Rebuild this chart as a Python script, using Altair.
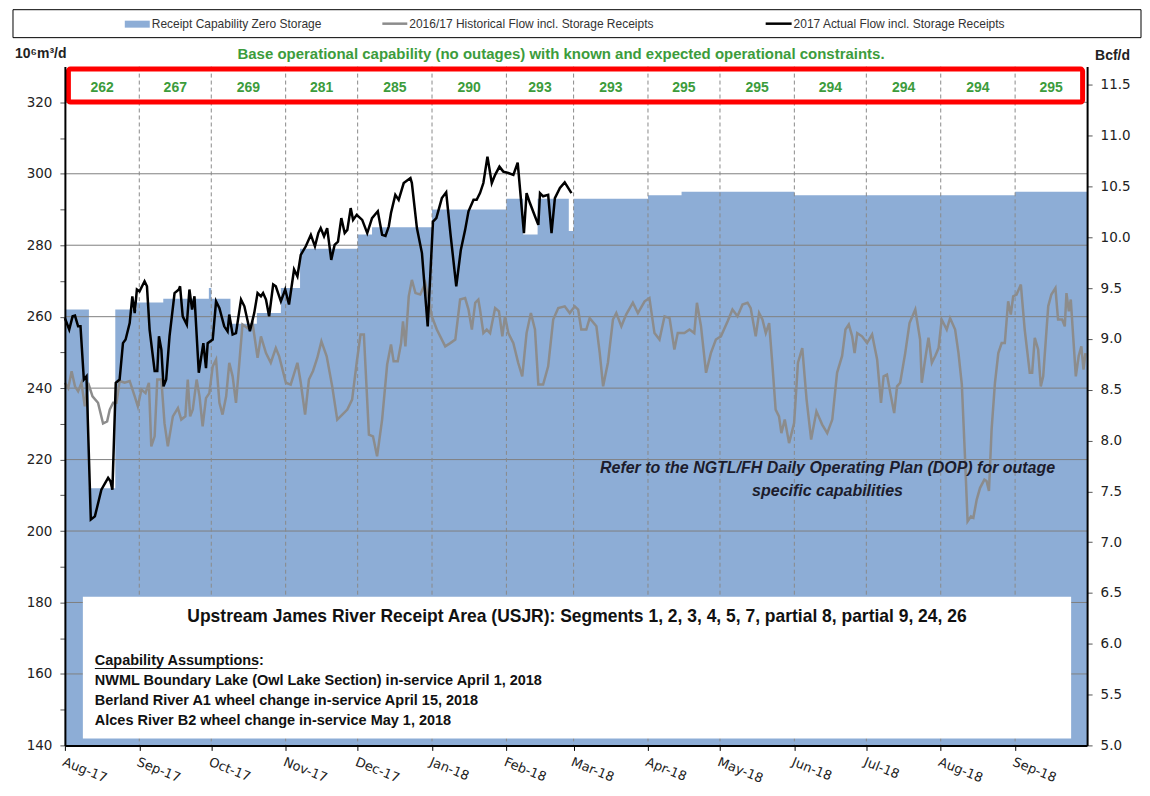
import altair as alt
import pandas as pd

# ---------------- data ----------------
# days since 2017-08-01
cap_days = [0, 10, 21, 30, 41, 60, 61, 69, 80, 90, 98, 122, 128, 153, 184, 191, 197, 210, 212, 243, 257, 304, 396, 426]
cap_vals = [262, 212, 262, 264, 265, 268, 265, 258, 261, 268, 279, 283, 285, 290, 293, 283, 293, 284, 293, 294, 295, 294, 295, 295]

act_days = [0.0, 1.8, 3.2, 4.2, 5.5, 6.5, 7.9, 9.0, 10.8, 12.5,
            13.4, 15.2, 18.0, 19.0, 19.8, 21.2, 22.8, 24.2, 25.3, 27.0,
            28.1, 29.1, 30.0, 31.1, 33.2, 34.2, 35.3, 37.4, 38.5, 39.2,
            40.2, 41.1, 42.2, 43.6, 45.7, 47.5, 48.0, 49.1, 50.8, 51.9,
            53.0, 54.0, 55.8, 57.7, 58.8, 59.5, 61.6, 63.0, 64.4, 66.4,
            67.8, 68.5, 69.9, 71.3, 73.4, 74.8, 77.1, 78.9, 80.3, 81.7,
            82.6, 83.8, 85.1, 86.8, 87.9, 90.0, 91.8, 93.4, 95.5, 96.9,
            98.3, 100.4, 102.5, 104.2, 105.6, 106.6, 108.0, 109.3, 111.0, 112.4,
            113.8, 115.2, 116.6, 117.7, 119.1, 120.1, 121.6, 123.9, 126.0, 128.0,
            130.4, 132.2, 133.6, 135.0, 135.9, 137.7, 139.1, 141.2, 144.0, 144.6,
            146.7, 148.8, 151.2, 153.4, 154.8, 157.1, 158.9, 160.8, 163.1, 165.0,
            166.8, 168.2, 170.3, 171.6, 173.0, 174.4, 176.1, 177.9, 179.3, 181.1,
            182.7, 184.8, 186.9, 188.7, 191.3, 192.4, 193.8, 195.9, 197.3, 198.0,
            199.3, 201.4, 202.8, 204.2, 206.3, 208.3, 211.1]
act_vals = [259.6, 256.4, 260.1, 260.3, 257.3, 257.3, 242.4, 243.3, 203.2, 204.1,
            206.6, 211.6, 214.9, 213.9, 211.6, 241.5, 242.4, 252.6, 253.6, 258.2,
            265.7, 261.0, 267.6, 267.1, 269.9, 268.5, 256.4, 244.8, 244.8, 254.5,
            250.8, 240.5, 242.4, 254.5, 266.6, 267.6, 268.5, 260.1, 257.8, 267.6,
            262.0, 265.7, 244.3, 252.6, 245.6, 252.6, 253.6, 264.3, 262.4, 257.3,
            255.9, 260.6, 255.0, 255.4, 264.8, 262.9, 255.9, 261.0, 266.6, 265.7,
            266.6, 264.8, 260.1, 269.0, 268.5, 264.3, 267.6, 263.4, 273.2, 271.3,
            277.3, 279.7, 282.9, 279.7, 283.4, 284.8, 282.5, 284.8, 275.9, 280.1,
            281.0, 287.6, 283.4, 284.3, 290.4, 287.1, 288.5, 287.1, 283.4, 287.6,
            289.5, 282.9, 282.6, 285.3, 289.0, 294.1, 292.7, 297.4, 298.8, 297.4,
            284.8, 277.8, 257.3, 286.6, 287.6, 293.2, 294.8, 282.5, 268.5, 278.7,
            284.3, 289.5, 292.7, 292.7, 294.6, 297.4, 304.8, 297.4, 299.7, 302.0,
            300.6, 300.2, 299.7, 303.1, 283.4, 294.6, 291.8, 288.1, 285.7, 294.6,
            293.7, 294.1, 283.4, 293.2, 296.0, 297.6, 294.6]

hist_days = [0.0, 1.4, 2.8, 4.2, 5.5, 6.9, 8.3, 9.7, 11.5, 13.8,
             15.9, 17.6, 18.7, 20.1, 21.5, 22.8, 24.9, 27.0, 29.1, 30.4,
             31.9, 33.6, 35.0, 36.0, 37.4, 38.5, 40.2, 41.5, 42.9, 45.0,
             47.1, 48.5, 50.2, 51.2, 52.2, 53.3, 54.9, 56.1, 57.4, 58.8,
             60.2, 61.6, 63.0, 64.4, 65.7, 67.2, 68.5, 69.9, 71.3, 72.7,
             74.0, 76.1, 78.2, 80.3, 81.7, 83.8, 85.8, 87.9, 89.3, 92.1,
             94.1, 96.9, 98.3, 100.1, 101.7, 103.4, 105.2, 106.9, 109.1, 111.4,
             113.5, 115.6, 117.7, 119.7, 121.6, 123.2, 124.6, 126.7, 128.4, 130.1,
             132.2, 134.3, 135.9, 137.0, 138.7, 140.1, 140.9, 141.9, 143.3, 144.6,
             146.1, 148.1, 150.2, 151.6, 152.9, 155.0, 158.5, 160.6, 162.7, 164.7,
             166.8, 168.2, 169.6, 171.0, 172.3, 173.0, 174.4, 175.8, 177.2, 179.3,
             180.9, 182.3, 183.4, 184.8, 186.9, 188.9, 190.6, 192.4, 194.2, 195.9,
             197.3, 199.3, 201.4, 203.5, 205.6, 208.3, 210.4, 212.5, 213.9, 215.2,
             217.3, 218.7, 221.5, 222.9, 224.3, 226.3, 228.4, 229.8, 231.9, 233.9,
             236.7, 238.8, 241.6, 243.6, 245.7, 247.8, 249.9, 252.0, 254.0, 255.4,
             258.2, 260.3, 262.3, 263.4, 265.1, 267.2, 269.2, 271.3, 273.4, 276.2,
             278.2, 280.3, 282.4, 284.5, 285.8, 287.9, 289.3, 290.7, 292.1, 293.5,
             294.9, 296.2, 297.6, 298.6, 300.0, 301.8, 303.9, 305.5, 307.3, 309.1,
             311.0, 313.2, 315.6, 317.7, 319.8, 321.8, 323.9, 325.3, 326.7, 328.1,
             329.1, 330.2, 332.2, 334.3, 336.4, 338.5, 340.1, 341.2, 342.6, 344.0,
             345.6, 346.8, 348.1, 350.2, 352.0, 354.4, 356.4, 357.1, 358.5, 359.9,
             361.3, 362.7, 364.1, 365.4, 367.5, 368.9, 371.0, 372.4, 373.8, 375.1,
             376.2, 377.6, 378.6, 380.0, 381.4, 383.2, 384.1, 385.1, 386.2, 387.6,
             389.0, 390.4, 391.7, 393.1, 394.2, 395.2, 396.6, 398.4, 400.0, 402.1,
             403.1, 404.2, 405.6, 406.7, 407.7, 409.8, 411.1, 412.8, 413.9, 415.6,
             416.7, 417.4, 418.4, 419.2, 420.2, 421.3, 422.5, 423.6, 424.5, 425.3]
hist_vals = [241.5, 240.0, 244.7, 240.5, 239.1, 241.5, 234.9, 241.5, 237.7, 235.9,
             230.1, 230.7, 234.0, 235.9, 235.9, 242.0, 241.5, 242.0, 237.7, 234.9,
             239.6, 238.6, 241.5, 223.7, 226.5, 242.4, 242.4, 230.2, 223.7, 232.1,
             234.4, 231.2, 232.1, 242.4, 232.1, 234.0, 242.4, 237.7, 229.3, 237.2,
             238.6, 246.1, 248.0, 235.9, 232.6, 237.7, 247.1, 243.3, 235.9, 247.1,
             257.8, 256.8, 258.2, 248.5, 254.5, 249.8, 247.1, 251.2, 248.9, 241.5,
             241.0, 247.1, 241.5, 232.6, 242.4, 244.8, 248.5, 253.1, 248.9, 240.5,
             231.2, 232.6, 234.0, 236.8, 247.1, 255.0, 255.0, 227.0, 226.5, 220.9,
             231.2, 246.6, 252.2, 247.5, 247.5, 252.6, 258.7, 251.7, 265.7, 270.3,
             266.6, 266.2, 269.4, 264.8, 260.1, 256.4, 251.7, 252.6, 253.6, 264.8,
             265.2, 262.0, 256.4, 263.9, 264.8, 262.0, 255.4, 256.4, 255.4, 262.4,
             261.5, 254.5, 260.1, 255.4, 252.6, 247.1, 243.3, 255.4, 261.0, 256.4,
             241.0, 241.0, 246.1, 259.2, 262.4, 262.9, 261.0, 262.9, 262.0, 256.4,
             256.4, 259.6, 257.3, 249.8, 240.5, 247.1, 259.2, 261.0, 257.3, 260.6,
             263.9, 261.0, 264.3, 265.2, 255.4, 253.6, 260.1, 259.6, 250.8, 255.4,
             255.4, 256.4, 255.4, 263.9, 257.3, 244.3, 249.8, 253.6, 254.5, 258.7,
             262.0, 260.1, 263.4, 263.9, 262.4, 254.5, 261.0, 259.2, 255.4, 258.2,
             246.1, 234.0, 232.1, 227.4, 231.2, 224.6, 230.2, 247.1, 251.2, 236.8,
             225.6, 233.5, 229.8, 227.4, 231.2, 244.3, 249.0, 256.4, 257.8, 254.5,
             249.8, 255.4, 254.5, 252.6, 255.0, 248.0, 235.9, 243.3, 243.8, 238.6,
             233.0, 240.5, 241.5, 249.8, 258.2, 262.0, 253.6, 241.5, 248.0, 254.1,
             247.1, 249.0, 251.2, 259.2, 256.4, 259.6, 256.4, 249.8, 241.0, 220.9,
             202.7, 204.1, 203.7, 208.8, 212.1, 214.4, 214.0, 211.2, 228.4, 241.5,
             249.8, 252.6, 252.6, 264.3, 260.6, 265.7, 266.2, 269.0, 256.4, 244.3,
             244.3, 254.1, 250.8, 240.5, 243.3, 262.9, 266.2, 268.0, 259.2, 259.2,
             257.3, 266.6, 261.5, 264.8, 254.5, 243.3, 249.0, 251.7, 245.2, 249.8]

month_caps = [262, 267, 269, 281, 285, 290, 293, 293, 295, 295, 294, 294, 294, 295]
left_ticks = list(range(140, 321, 10))
grid_vals = list(range(160, 321, 20))
right_ticks = [5.0, 5.5, 6.0, 6.5, 7.0, 7.5, 8.0, 8.5, 9.0, 9.5, 10.0, 10.5, 11.0, 11.5]

# ---------------- tables ----------------
BASE = pd.Timestamp("2017-08-01")


def series(days, vals):
    return pd.DataFrame({"date": BASE + pd.to_timedelta(days, unit="D"), "v": vals})


cap_df = series(cap_days, cap_vals)
act_df = series(act_days, act_vals)
hist_df = series(hist_days, hist_vals)

month_starts = pd.date_range("2017-08-01", "2018-10-01", freq="MS")
mid = month_starts[:-1] + (month_starts[1:] - month_starts[:-1]) / 2
month_df = pd.DataFrame({"date": mid, "label": [str(v) for v in month_caps]})
vgrid_df = pd.DataFrame({"date": month_starts[1:-1]})
hgrid_df = pd.DataFrame({"g": grid_vals})
right_df = pd.DataFrame({"b": right_ticks})
one = pd.DataFrame({"a": [0]})

# ---------------- styles ----------------
BLUE = "#8DADD6"
GREEN = "#3c9c3c"
AXF = "DejaVu Sans"
NARROW = "Liberation Sans Narrow, Liberation Sans, sans-serif"
BODY = "Liberation Sans, Arial, sans-serif"

xscale = alt.Scale(domain=[alt.DateTime(year=2017, month=8, date=1),
                           alt.DateTime(year=2018, month=10, date=1)], nice=False)


def yscale():
    return alt.Scale(domain=[140, 330], zero=False, nice=False)


xaxis = alt.Axis(values=[alt.DateTime(year=d.year, month=d.month, date=1) for d in month_starts[:-1]],
                 format="%b-%y", labelAngle=22, labelAlign="left", labelBaseline="top",
                 labelPadding=5, labelFont=AXF, labelFontSize=13, labelColor="#222",
                 tickSize=5, tickColor="#000", domainColor="#000", domainWidth=2,
                 grid=False, title=None, labelOverlap=False, orient="bottom", zindex=2)
yaxis = alt.Axis(values=left_ticks, labelExpr="datum.value % 20 == 0 ? datum.label : ''",
                 labelFont=AXF, labelFontSize=13.5, labelColor="#222", labelPadding=8,
                 tickSize=5, tickColor="#555", domainColor="#000", domainWidth=2,
                 grid=False, title=None, orient="left", zindex=2)


def X():
    return alt.X("date:T", scale=xscale, axis=None, title=None)


def txt(s, x, y, size, weight="normal", style="normal", color="#222", align="left", font=BODY):
    return alt.Chart(one).mark_text(align=align, baseline="middle", fontSize=size, fontWeight=weight,
                                    fontStyle=style, color=color, font=font).encode(
        x=alt.value(x), y=alt.value(y), text=alt.value(s))


def box(x, x2, y, y2, **kw):
    return alt.Chart(one).mark_rect(**kw).encode(
        x=alt.value(x), x2=alt.value(x2), y=alt.value(y), y2=alt.value(y2))


def hline(x, x2, y, color, width):
    return alt.Chart(one).mark_rule(color=color, strokeWidth=width).encode(
        x=alt.value(x), x2=alt.value(x2), y=alt.value(y))


area = alt.Chart(cap_df).mark_area(interpolate="step-after", color=BLUE, opacity=1).encode(
    x=alt.X("date:T", scale=xscale, axis=xaxis, title=None),
    y=alt.Y("v:Q", scale=yscale(), axis=yaxis),
    y2=alt.datum(140))

hgrid = alt.Chart(hgrid_df).mark_rule(color="#7f7f7f", strokeWidth=1).encode(
    y=alt.Y("g:Q", scale=yscale(), axis=None))

vgrid = alt.Chart(vgrid_df).mark_rule(color="#8a8a8a", strokeWidth=1, strokeDash=[4, 3]).encode(
    x=X())

hist = alt.Chart(hist_df).mark_line(color="#8c8c8c", strokeWidth=2.5).encode(
    x=X(), y=alt.Y("v:Q", scale=yscale(), axis=None))

act = alt.Chart(act_df).mark_line(color="#000000", strokeWidth=2.5).encode(
    x=X(), y=alt.Y("v:Q", scale=yscale(), axis=None))

month_txt = alt.Chart(month_df).mark_text(font=NARROW, fontSize=14, fontWeight="bold", color=GREEN,
                                          baseline="middle").encode(
    x=X(), y=alt.value(21), text="label:N")

red_box = box(3.5, 1019.5, 2.5, 35.5, fillOpacity=0, stroke="#ff0000", strokeWidth=5, cornerRadius=2)

white_box = box(18, 1008, 531, 673, fill="white")

annotations = [
    # legend
    box(-52, 1078, -57, -29, fill="white", stroke="#000", strokeWidth=1),
    box(60, 85, -46, -39, fill=BLUE),
    txt("Receipt Capability Zero Storage", 87, -43, 12, font=NARROW, color="#333"),
    hline(318, 343, -43, "#8c8c8c", 2.5),
    txt("2016/17 Historical Flow incl. Storage Receipts", 345, -43, 12, font=NARROW, color="#333"),
    hline(702, 728, -43, "#000", 2.5),
    txt("2017 Actual Flow incl. Storage Receipts", 730, -43, 12, font=NARROW, color="#333"),
    # headers
    txt("Base operational capability (no outages) with known and expected operational constraints.",
        497, -13, 15, weight="bold", color=GREEN, align="center", font=NARROW),
    txt("10\u2076m\u00b3/d", -50, -13, 14, weight="bold", font=NARROW, color="#222"),
    txt("Bcf/d", 1032, -11, 14, weight="bold", font=NARROW, color="#222"),
    # DOP note
    txt("Refer to the NGTL/FH Daily Operating Plan (DOP) for outage", 764, 402, 16,
        weight="bold", style="italic", color="#1c1c2c", align="center"),
    txt("specific capabilities", 764, 425, 16, weight="bold", style="italic", color="#1c1c2c", align="center"),
    # white info box
    white_box,
    txt("Upstream James River Receipt Area (USJR):  Segments 1, 2, 3, 4, 5, 7, partial 8, partial 9, 24, 26",
        513, 551, 17.5, weight="bold", color="#111", align="center"),
    txt("Capability Assumptions:", 30, 595, 14.5, weight="bold", color="#111"),
    hline(30, 193, 603, "#111", 1),
    txt("NWML Boundary Lake (Owl Lake Section) in-service April 1, 2018", 30, 615, 14.5, weight="bold", color="#111"),
    txt("Berland River A1 wheel change in-service April 15, 2018", 30, 636, 14.5, weight="bold", color="#111"),
    txt("Alces River B2 wheel change in-service May 1, 2018", 30, 656, 14.5, weight="bold", color="#111"),
]

right_axis = alt.Chart(right_df).mark_point(opacity=0).encode(
    y=alt.Y("b:Q", scale=alt.Scale(domain=[5.0, 11.68], zero=False, nice=False),
            axis=alt.Axis(orient="right", values=right_ticks, format=".1f", labelFont=AXF,
                          labelFontSize=13.5, labelColor="#222", labelPadding=8, tickSize=5,
                          tickColor="#555", domainColor="#000", domainWidth=2, grid=False,
                          title=None, zindex=2)))

chart = alt.layer(area, hgrid, vgrid, hist, act, month_txt, red_box, *annotations, right_axis).resolve_scale(
    y="independent").resolve_axis(x="independent").properties(
    width=1024, height=680,
    autosize=alt.AutoSizeParams(type="none"),
    padding={"left": 57, "top": 58, "right": 55, "bottom": 49},
    background="white",
).configure_view(stroke=None)

chart.save("out.html", embed_options={"renderer": "svg", "actions": False})
